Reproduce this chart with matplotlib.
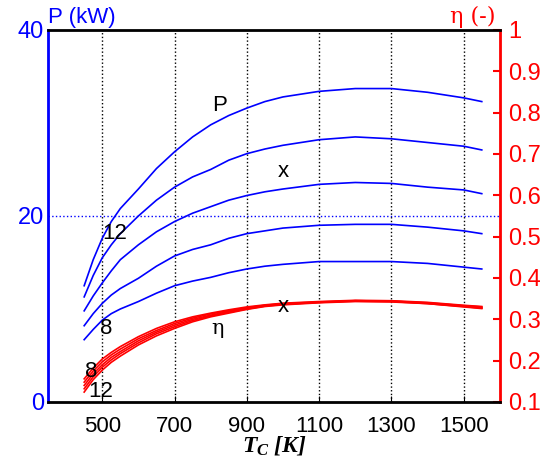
import matplotlib
matplotlib.use("Agg")
import matplotlib.pyplot as plt

plt.rcParams['font.family'] = ['Liberation Sans', 'DejaVu Sans']
plt.rcParams['mathtext.fontset'] = 'custom'
plt.rcParams['mathtext.it'] = 'Liberation Serif:italic:bold'
plt.rcParams['mathtext.rm'] = 'Liberation Serif:bold'

# temperature Tc (K)
T = [450, 475, 500, 525, 550, 600, 650, 700, 750, 800, 850, 900, 950, 1000,
     1100, 1200, 1300, 1400, 1500, 1550]

# power P (kW), curves for 12 ... 8
P12 = [12.5, 15.3, 17.6, 19.4, 20.8, 22.9, 25.1, 26.9, 28.5, 29.8, 30.8, 31.6, 32.3, 32.8,
       33.4, 33.7, 33.7, 33.3, 32.7, 32.3]
P11 = [11.3, 13.6, 15.5, 16.9, 18.1, 20.0, 21.7, 23.1, 24.2, 25.0, 26.0, 26.7, 27.2, 27.6,
       28.2, 28.5, 28.3, 27.9, 27.5, 27.1]
P10 = [9.8, 11.4, 12.8, 14.1, 15.3, 16.9, 18.3, 19.4, 20.3, 21.0, 21.7, 22.2, 22.6, 22.9,
       23.4, 23.6, 23.5, 23.1, 22.8, 22.4]
P9 = [8.2, 9.5, 10.6, 11.5, 12.2, 13.3, 14.6, 15.7, 16.4, 16.9, 17.6, 18.1, 18.4, 18.7,
      19.0, 19.1, 19.1, 18.8, 18.4, 18.1]
P8 = [6.7, 7.8, 8.8, 9.5, 10.0, 10.8, 11.7, 12.5, 13.0, 13.4, 13.9, 14.3, 14.6, 14.8,
      15.1, 15.1, 15.1, 14.9, 14.5, 14.3]

# efficiency eta (-)
eta8 = [0.156, 0.182, 0.204, 0.220, 0.234, 0.258, 0.278, 0.294, 0.306, 0.315, 0.323, 0.330,
        0.335, 0.339, 0.343, 0.346, 0.345, 0.341, 0.334, 0.331]
eta9 = [0.148, 0.175, 0.197, 0.214, 0.228, 0.253, 0.273, 0.290, 0.303, 0.313, 0.321, 0.328,
        0.334, 0.338, 0.342, 0.345, 0.344, 0.340, 0.333, 0.330]
eta10 = [0.140, 0.168, 0.190, 0.208, 0.222, 0.248, 0.269, 0.286, 0.300, 0.310, 0.319, 0.327,
         0.333, 0.337, 0.341, 0.345, 0.344, 0.339, 0.332, 0.328]
eta11 = [0.132, 0.161, 0.184, 0.202, 0.217, 0.243, 0.265, 0.282, 0.297, 0.308, 0.317, 0.325,
         0.332, 0.336, 0.341, 0.344, 0.343, 0.338, 0.331, 0.327]
eta12 = [0.124, 0.154, 0.177, 0.196, 0.211, 0.238, 0.260, 0.278, 0.294, 0.306, 0.315, 0.324,
         0.331, 0.335, 0.340, 0.343, 0.342, 0.338, 0.330, 0.326]

xticks = [500, 700, 900, 1100, 1300, 1500]

fig = plt.figure(figsize=(5.47, 4.61), dpi=100)
ax = fig.add_axes([0.0878, 0.128, 0.826, 0.807])
ax2 = ax.twinx()

for p in [P12, P11, P10, P9, P8]:
    ax.plot(T, p, color='#0000ff', lw=1.2)
for e in [eta8, eta9, eta10, eta11, eta12]:
    ax2.plot(T, e, color='#ff0000', lw=1.2)

ax.set_xlim(350, 1600)
ax.set_ylim(0, 40)
ax2.set_ylim(0.1, 1.0)

ax.set_xticks(xticks)
ax.set_yticks([0, 20, 40])
ax2.set_yticks([0.1, 0.2, 0.3, 0.4, 0.5, 0.6, 0.7, 0.8, 0.9, 1.0])
ax2.set_yticklabels(['0.1', '0.2', '0.3', '0.4', '0.5', '0.6', '0.7', '0.8', '0.9', '1'])

for xv in xticks:
    ax.axvline(xv, color='black', ls=':', lw=1, zorder=0)
ax.axhline(20, color='#0000ff', ls=':', lw=1, zorder=0)

ax.tick_params(axis='x', direction='in', length=4, labelsize=16, pad=10, colors='black')
ax.tick_params(axis='y', direction='in', length=0, labelsize=17, colors='#0000ff', pad=3)
ax2.tick_params(axis='y', direction='in', length=5, width=1.5, labelsize=17, colors='#ff0000', pad=6)

for s in ['top', 'bottom']:
    ax2.spines[s].set_linewidth(2)
    ax2.spines[s].set_color('black')
ax2.spines['left'].set_color('#0000ff')
ax2.spines['left'].set_linewidth(2)
ax2.spines['right'].set_color('#ff0000')
ax2.spines['right'].set_linewidth(2)

ax.set_xlabel(r'$T_C$ [K]', fontfamily='Liberation Serif', style='italic', weight='bold',
              fontsize=17, labelpad=-2)

fig.text(0.0878, 0.94, 'P (kW)', color='#0000ff', fontsize=16, ha='left', va='bottom')
fig.text(0.906, 0.94, 'η (-)', color='#ff0000', fontsize=16, ha='right', va='bottom',
         family=['DejaVu Serif'])

# curve annotations
ax.text(825, 30.8, 'P', fontsize=16, ha='center', va='bottom')
ax.text(1000, 23.6, 'x', fontsize=16, ha='center', va='bottom')
ax.text(535, 17.0, '12', fontsize=16, ha='center', va='bottom')
ax.text(510, 6.8, '8', fontsize=16, ha='center', va='bottom')
ax2.text(1000, 0.305, 'x', fontsize=16, ha='center', va='bottom')
ax2.text(820, 0.255, 'η', fontsize=15, ha='center', va='bottom', family=['DejaVu Serif'])
ax2.text(470, 0.148, '8', fontsize=16, ha='center', va='bottom')
ax2.text(495, 0.1, '12', fontsize=16, ha='center', va='bottom')

fig.savefig('out.png', dpi=100)
